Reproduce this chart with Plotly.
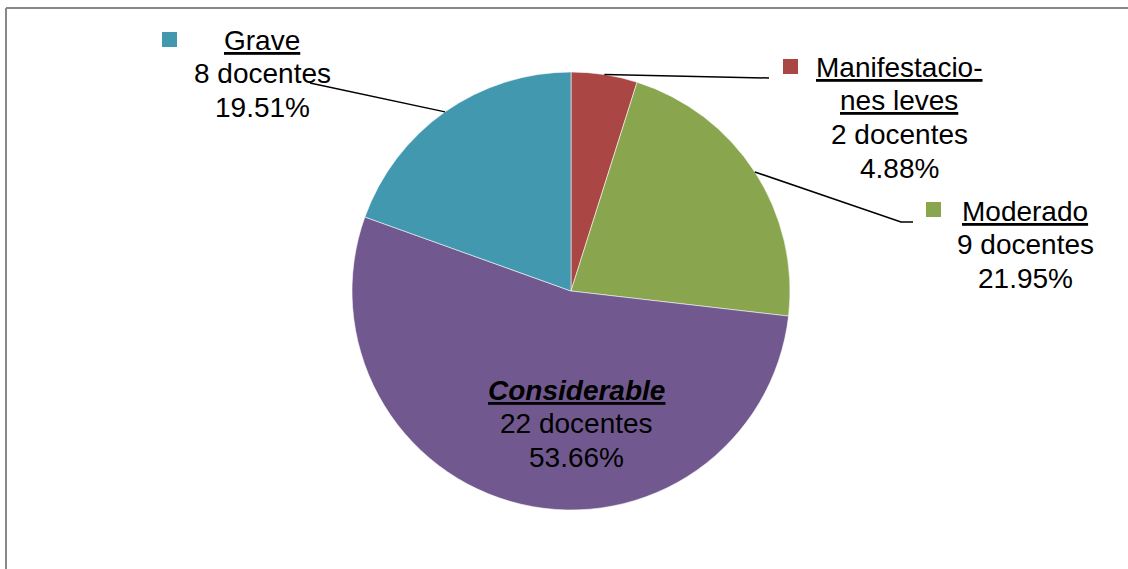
import math
import plotly.graph_objects as go

# ---- data ----
categories = ["Manifestaciones leves", "Moderado", "Considerable", "Grave"]
label_heads = [["Manifestacio-", "nes leves"], ["Moderado"], ["Considerable"], ["Grave"]]
docentes = [2, 9, 22, 8]
percents = ["4.88%", "21.95%", "53.66%", "19.51%"]
colors = ["#AA4643", "#89A54E", "#71588F", "#4198AF"]

W, H = 1128, 569
# pie geometry (pixels)
cx, cy, R = 571, 291, 219

def px(x):
    return x / W

def py(y):
    return 1 - y / H

fig = go.Figure()
fig.add_trace(go.Pie(
    labels=categories,
    values=docentes,
    sort=False,
    direction="clockwise",
    rotation=0,
    marker=dict(colors=colors, line=dict(color="rgba(255,255,255,0.7)", width=0.8)),
    textinfo="none",
    hoverinfo="label+value+percent",
    showlegend=False,
    domain=dict(x=[px(cx - R), px(cx + R)], y=[py(cy + R), py(cy - R)]),
))

FS = 28
font = dict(family="Liberation Sans, Arial, sans-serif", size=FS, color="#000000")

# label block placement: center x, first baseline y, line pitch, legend square
label_pos = {
    "Manifestaciones leves": (899, 77, 33.7, (783, 59)),
    "Moderado": (1025, 221, 33.5, (926, 202)),
    "Considerable": (577, 400, 33.5, None),
    "Grave": (262, 50, 33.7, (162, 32)),
}
# leader line label-side endpoints
leader_end = {
    "Manifestaciones leves": [(769, 78)],
    "Moderado": [(901, 222), (913, 222)],
    "Grave": [(310, 83)],
}

annotations = []
shapes = []
total = sum(docentes)
cum = 0
for cat, heads, n, pct, col in zip(categories, label_heads, docentes, percents, colors):
    mid = (cum + n / 2) / total * 2 * math.pi
    cum += n
    ex = cx + R * math.sin(mid)
    ey = cy - R * math.cos(mid)
    if cat == "Considerable":
        lines = [f"<b><i><u>{h}</u></i></b>" for h in heads]
    else:
        lines = [f"<u>{h}</u>" for h in heads]
    lines += [f"{n} docentes", pct]
    lx, ly, pitch, sq = label_pos[cat]
    for i, t in enumerate(lines):
        base = ly + i * pitch
        annotations.append(dict(
            x=px(lx), y=py(base - 0.35 * FS), xref="paper", yref="paper",
            text=t, showarrow=False, font=font, align="center",
            xanchor="center", yanchor="middle",
        ))
    if sq is not None:
        sx, sy = sq
        shapes.append(dict(type="rect", xref="paper", yref="paper",
                           x0=px(sx), x1=px(sx + 15), y0=py(sy + 15), y1=py(sy),
                           fillcolor=col, line=dict(width=0)))
    if cat in leader_end:
        pts = [(ex, ey)] + leader_end[cat]
        path = "M " + " L ".join(f"{px(a)},{py(b)}" for a, b in pts)
        shapes.append(dict(type="path", xref="paper", yref="paper", path=path,
                           line=dict(color="#000000", width=1.5)))

# chart frame (top and left edges visible)
frame = dict(color="#898989", width=2)
shapes.append(dict(type="line", xref="paper", yref="paper",
                   x0=px(6), x1=1, y0=py(8), y1=py(8), line=frame))
shapes.append(dict(type="line", xref="paper", yref="paper",
                   x0=px(6), x1=px(6), y0=py(8), y1=0, line=frame))

fig.update_layout(
    width=W, height=H,
    margin=dict(l=0, r=0, t=0, b=0),
    paper_bgcolor="white", plot_bgcolor="white",
    annotations=annotations, shapes=shapes,
    showlegend=False,
)

fig.write_html("out.html")
